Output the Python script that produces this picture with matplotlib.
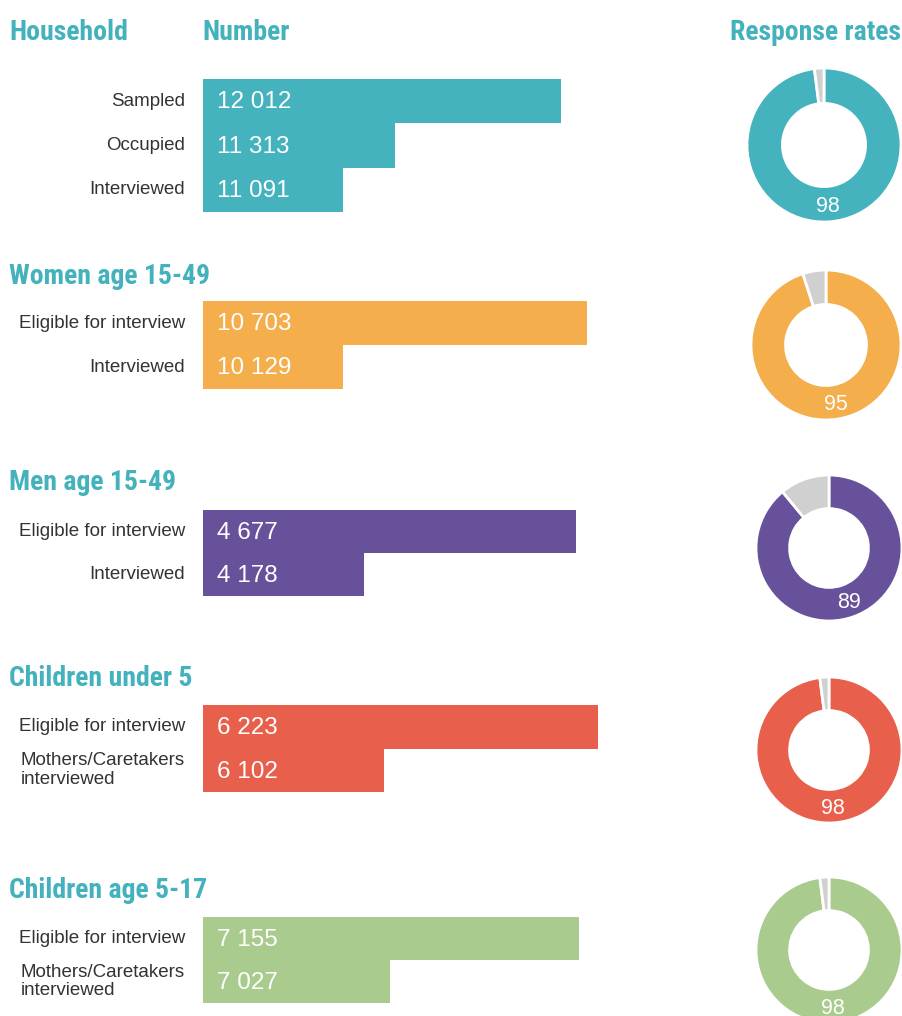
import matplotlib
matplotlib.use("Agg")
import matplotlib.pyplot as plt
from matplotlib.transforms import blended_transform_factory
import numpy as np

# ---------------- data ----------------
group_titles = ["Household", "Women age 15-49", "Men age 15-49",
                "Children under 5", "Children age 5-17"]
hh_labels = ["Sampled", "Occupied", "Interviewed"]
hh_values = [12012, 11313, 11091]
women_labels = ["Eligible for interview", "Interviewed"]
women_values = [10703, 10129]
men_labels = ["Eligible for interview", "Interviewed"]
men_values = [4677, 4178]
cu5_labels = ["Eligible for interview", "Mothers/Caretakers\ninterviewed"]
cu5_values = [6223, 6102]
c517_labels = ["Eligible for interview", "Mothers/Caretakers\ninterviewed"]
c517_values = [7155, 7027]
response_rates = [98, 95, 89, 98, 98]

# ---------------- style ----------------
W, H = 902, 1016
teal = "#43B2BD"
colors = ["#44B3BE", "#F4AE4C", "#67519B", "#E8604B", "#A9CC8E"]
gray = "#D0D0D0"
label_color = "#333333"
head_font = dict(family=["Roboto Condensed", "DejaVu Sans"], weight="bold",
                 stretch="condensed", fontsize=20, color=teal)
body_font = ["Liberation Sans", "DejaVu Sans"]

fig = plt.figure(figsize=(W / 100, H / 100), dpi=100)
fig.patch.set_facecolor("white")


def fx(x):
    return x / W


def fy(y):
    return 1 - y / H


# headers
fig.text(fx(9), fy(32), "Household", ha="left", va="center", **head_font)
fig.text(fx(202), fy(32), "Number", ha="left", va="center", **head_font)
fig.text(fx(901), fy(32), "Response rates", ha="right", va="center", **head_font)
title_y = [None, 276, 483, 679, 891]
for t, y in zip(group_titles[1:], title_y[1:]):
    fig.text(fx(9), fy(y), t, ha="left", va="center", **head_font)

groups = [
    (hh_labels, hh_values),
    (women_labels, women_values),
    (men_labels, men_values),
    (cu5_labels, cu5_values),
    (c517_labels, c517_values),
]
# layout: bar block vertical extent (px), axis ranges (truncated axes)
bar_extent = [(79, 212), (301, 389), (510, 596), (705, 792), (917, 1003)]
xlims = [(10500, 12190), (9800, 10741), (3800, 4740), (6000, 6226), (6900, 7171)]
bar_left_px, bar_width_px = 203, 400

for gi, ((labels, values), (top, bot), xl) in enumerate(zip(groups, bar_extent, xlims)):
    ax = fig.add_axes([fx(bar_left_px), fy(bot), bar_width_px / W, (bot - top) / H])
    n = len(values)
    ypos = np.arange(n)
    ax.barh(ypos, values, height=1.0, left=0, color=colors[gi], linewidth=0)
    ax.set_xlim(*xl)
    ax.set_ylim(n - 0.5, -0.5)
    ax.axis("off")
    tr = blended_transform_factory(ax.transAxes, ax.transData)
    for yi, (lab, v) in enumerate(zip(labels, values)):
        ax.text(-0.045, yi, lab, transform=tr, ha="right", va="center",
                multialignment="left", fontsize=13.5, color=label_color,
                family=body_font, linespacing=1.15, clip_on=False)
        ax.text(0.035, yi + 0.03, f"{v:,}".replace(",", " "), transform=tr, ha="left",
                va="center", fontsize=17.5, color="white", family=body_font)

# donuts
donut_centers = [(824, 145), (826, 345), (829, 548), (829, 750), (829, 950)]
donut_r = [77, 75, 73, 73, 73]
hole = 0.54
for gi, ((cx, cy), r, rate) in enumerate(zip(donut_centers, donut_r, response_rates)):
    ax = fig.add_axes([fx(cx - r), fy(cy + r), 2 * r / W, 2 * r / H])
    ax.pie([rate, 100 - rate], colors=[colors[gi], gray], startangle=90,
           counterclock=False, radius=1.0,
           wedgeprops=dict(width=1 - hole, edgecolor="white", linewidth=2.0))
    ax.set_xlim(-1, 1)
    ax.set_ylim(-1, 1)
    ax.set_aspect("equal")
    ax.axis("off")
    mid = np.deg2rad(90 - 360 * rate / 100 / 2)
    rl = 0.8
    ax.text(rl * np.cos(mid), rl * np.sin(mid), str(rate), ha="center", va="center",
            fontsize=15.5, color="white", family=body_font)

fig.savefig("out.png", dpi=100)
